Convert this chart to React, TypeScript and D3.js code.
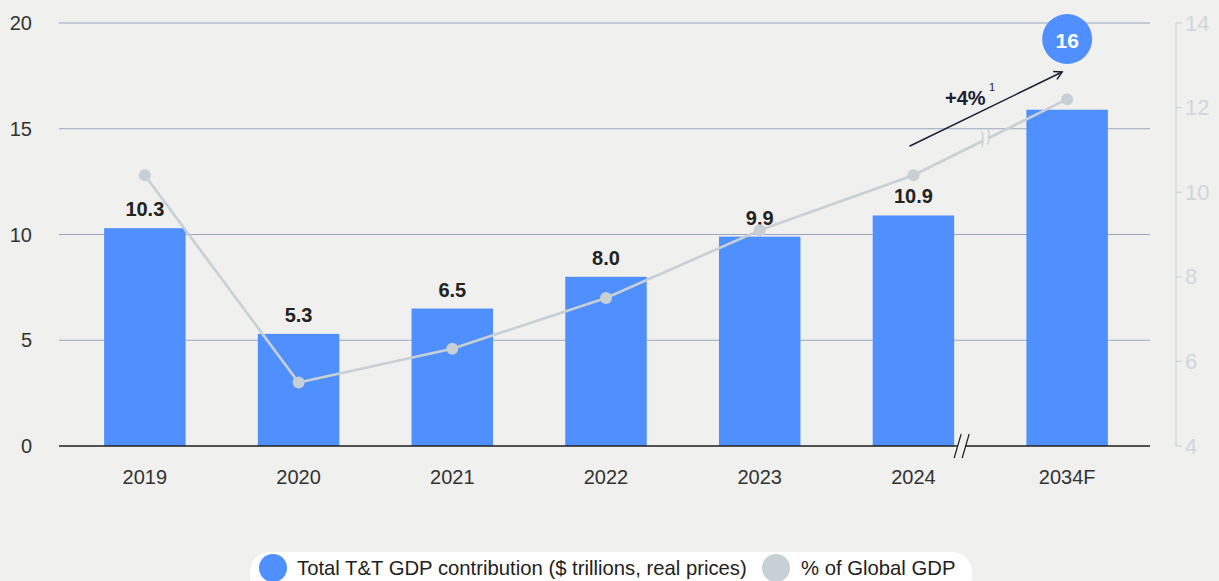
import * as d3 from 'd3';

const categories = ['2019', '2020', '2021', '2022', '2023', '2024', '2034F'];
const gdpTrillions = [10.3, 5.3, 6.5, 8.0, 9.9, 10.9, 15.9];
const shareOfGlobal = [10.4, 5.5, 6.3, 7.5, 9.1, 10.4, 12.2];
const leftTicks = [0, 5, 10, 15, 20];
const rightTicks = [4, 6, 8, 10, 12, 14];
const growthLabel = '+4%';
const forecastTotal = '16';
const legendItems = ['Total T&T GDP contribution ($ trillions, real prices)', '% of Global GDP'];

const W = 1219;
const H = 581;
const BG = '#f0f0ee';
const BLUE = '#508ffe';
const GREY = '#c6d0d5';
const FONT = '"Liberation Sans", Arial, Helvetica, sans-serif';

export default function App() {
  const top = 23;
  const bottom = 446;
  const gridLeft = 59;
  const gridRight = 1150;

  const x = d3.scaleBand().domain(categories).range([68, 1144]).paddingInner(0.47).paddingOuter(0.235);
  const yL = d3.scaleLinear().domain([0, 20]).range([bottom, top]);
  const yR = d3.scaleLinear().domain([4, 14]).range([bottom, top]);
  const cx = (c: string) => x(c)! + x.bandwidth() / 2;

  const line = d3.line<number>()
    .x((_, i) => cx(categories[i]))
    .y(d => yR(d));

  const last = categories.length - 1;
  // break mark on the line, between 2024 and 2034F
  const bx = cx(categories[last - 1]) + (cx(categories[last]) - cx(categories[last - 1])) * 0.47;
  const by = yR(shareOfGlobal[last - 1]) + (yR(shareOfGlobal[last]) - yR(shareOfGlobal[last - 1])) * 0.47;
  const slope = (Math.atan2(yR(shareOfGlobal[last]) - yR(shareOfGlobal[last - 1]), cx(categories[last]) - cx(categories[last - 1])) * 180) / Math.PI;
  // axis break between the 2024 bar and the 2034F bar
  const ax = x(categories[last - 1])! + x.bandwidth() + 4;

  // growth arrow
  const a1 = [cx(categories[last - 1]) - 4, yR(shareOfGlobal[last - 1]) - 29];
  const a2 = [cx(categories[last]) - 5, 72];
  const ang = Math.atan2(a2[1] - a1[1], a2[0] - a1[0]);
  const head = (s: number) => [a2[0] - 9 * Math.cos(ang + s), a2[1] - 9 * Math.sin(ang + s)];
  const h1 = head(0.5);
  const h2 = head(-0.5);

  return (
    <svg width={W} height={H} style={{ position: 'absolute', left: 0, top: 0, background: BG, fontFamily: FONT }}>
      <rect width={W} height={H} fill={BG} />

      {/* gridlines */}
      {leftTicks.filter(t => t > 0).map(t => (
        <line key={t} x1={gridLeft} x2={gridRight} y1={yL(t)} y2={yL(t)} stroke="#9aa6bf" strokeWidth={1.2} />
      ))}

      {/* left tick labels */}
      {leftTicks.map(t => (
        <text key={t} x={32} y={yL(t)} textAnchor="end" dominantBaseline="central" fontSize={20} fill="#333">{t}</text>
      ))}

      {/* bars */}
      {gdpTrillions.map((v, i) => (
        <rect key={i} x={x(categories[i])} y={yL(v)} width={x.bandwidth()} height={bottom - yL(v)} fill={BLUE} />
      ))}

      {/* x axis */}
      <line x1={gridLeft} x2={gridRight} y1={bottom} y2={bottom} stroke="#1e1e1e" strokeWidth={1.3} />
      <polygon points={`${ax - 4},${bottom + 12} ${ax + 3},${bottom - 12} ${ax + 11},${bottom - 12} ${ax + 4},${bottom + 12}`} fill={BG} />
      <line x1={ax - 4} y1={bottom + 12} x2={ax + 3} y2={bottom - 12} stroke="#1e1e1e" strokeWidth={1.2} />
      <line x1={ax + 4} y1={bottom + 12} x2={ax + 11} y2={bottom - 12} stroke="#1e1e1e" strokeWidth={1.2} />
      {categories.map(c => (
        <text key={c} x={cx(c)} y={477} textAnchor="middle" dominantBaseline="central" fontSize={20} fill="#333">{c}</text>
      ))}

      {/* value labels */}
      {gdpTrillions.slice(0, last).map((v, i) => (
        <text key={i} x={cx(categories[i])} y={yL(v) - 12} textAnchor="middle" fontSize={20} fontWeight="bold" fill="#222">
          {v.toFixed(1)}
        </text>
      ))}

      {/* share line */}
      <path d={line(shareOfGlobal) || ''} fill="none" stroke={GREY} strokeWidth={2.6} />
      <g transform={`translate(${bx},${by}) rotate(${slope})`}>
        <rect x={-3} y={-8} width={6} height={16} fill={BG} />
      </g>
      <path d={`M${bx - 4},${by - 8} q3,8 0,16 M${bx + 2},${by - 11} q3,8 0,16`} fill="none" stroke={GREY} strokeWidth={1.3} />
      {shareOfGlobal.map((v, i) => (
        <circle key={i} cx={cx(categories[i])} cy={yR(v)} r={6} fill={GREY} />
      ))}

      {/* right axis */}
      <line x1={1176} x2={1176} y1={top} y2={bottom} stroke="#ccd3d9" strokeWidth={1.2} />
      {rightTicks.map(t => (
        <g key={t}>
          <line x1={1176} x2={1182} y1={yR(t)} y2={yR(t)} stroke="#ccd3d9" strokeWidth={1.2} />
          <text x={1185} y={yR(t)} dominantBaseline="central" fontSize={22} fill="#d0d6db">{t}</text>
        </g>
      ))}

      {/* growth arrow */}
      <line x1={a1[0]} y1={a1[1]} x2={a2[0]} y2={a2[1]} stroke="#1a2035" strokeWidth={1.5} />
      <path d={`M${h1[0]},${h1[1]} L${a2[0]},${a2[1]} L${h2[0]},${h2[1]}`} fill="none" stroke="#1a2035" strokeWidth={1.5} />
      <text x={945} y={105} fontSize={20} fontWeight="bold" fill="#1a2035">{growthLabel}</text>
      <text x={989} y={91} fontSize={11} fill="#1a2035">1</text>

      {/* forecast bubble */}
      <circle cx={cx(categories[last])} cy={39} r={25} fill={BLUE} />
      <text x={cx(categories[last])} y={40} textAnchor="middle" dominantBaseline="central" fontSize={21} fontWeight="bold" fill="#fff">{forecastTotal}</text>

      {/* legend */}
      <rect x={250} y={552} width={722} height={50} rx={20} fill="#fff" />
      <circle cx={273} cy={568} r={14} fill={BLUE} />
      <text x={297} y={568} dominantBaseline="central" fontSize={20.3} fill="#222">{legendItems[0]}</text>
      <circle cx={776} cy={568} r={14} fill={GREY} />
      <text x={801} y={568} dominantBaseline="central" fontSize={20.3} fill="#222">{legendItems[1]}</text>
    </svg>
  );
}
